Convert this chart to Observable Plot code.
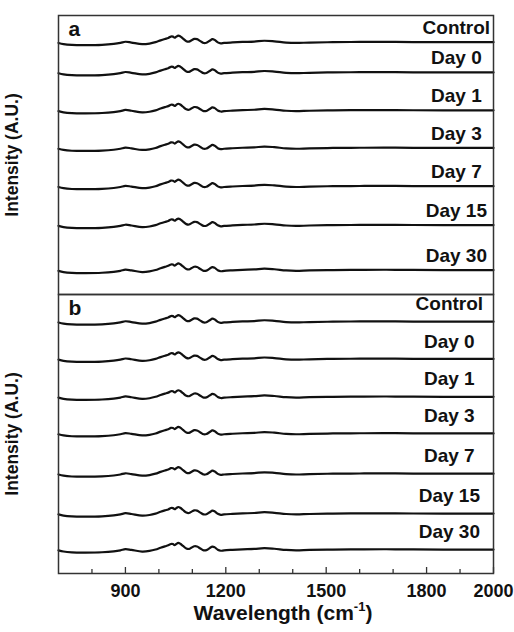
<!DOCTYPE html>
<html><head><meta charset="utf-8">
<script src="https://cdn.jsdelivr.net/npm/d3@7"></script>
<script src="https://cdn.jsdelivr.net/npm/@observablehq/plot@0.6"></script>
<style>body{margin:0;background:#fff} #chart{width:514px;height:632px}</style>
</head><body><div id="chart"></div>
<script>
// Wavenumber grid (cm-1) and spectral profile (relative intensity, A.U.)
const wavenumbers = [700, 715, 740, 780, 830, 865, 885, 900, 918, 950, 972, 990, 1005, 1018, 1028, 1036, 1042, 1047, 1052, 1058, 1064, 1072, 1082, 1090, 1098, 1106, 1114, 1124, 1134, 1142, 1152, 1160, 1167, 1176, 1185, 1195, 1220, 1250, 1285, 1315, 1345, 1380, 1410, 1450, 1520, 1600, 1680, 1760, 1850, 1950, 2000];
const profile = [-0.08, -0.20, -0.28, -0.30, -0.27, -0.18, -0.08, 0.04, -0.04, -0.20, -0.14, 0.00, 0.18, 0.32, 0.42, 0.56, 0.55, 0.44, 0.55, 0.66, 0.58, 0.36, 0.10, 0.06, 0.20, 0.33, 0.30, 0.10, -0.08, -0.06, 0.14, 0.30, 0.22, -0.02, -0.12, -0.08, -0.03, 0.02, 0.06, 0.14, 0.08, -0.04, -0.08, -0.04, 0, 0.02, 0.03, 0.01, 0, 0, 0];
const seriesNames = ["Control", "Day 0", "Day 1", "Day 3", "Day 7", "Day 15", "Day 30"];
const offsetsA = [25.28, 22.25, 18.45, 14.68, 10.85, 6.95, 2.45];
const offsetsB = [25.23, 21.5, 17.7, 14.03, 10.0, 6.0, 2.4];
const panels = ["a", "b"];
const majorTicks = [900, 1200, 1500, 1800, 2000];
const minorTicks = [800, 1000, 1100, 1300, 1400, 1600, 1700, 1900];

const rows = [];
const labelRows = [];
panels.forEach((p, pi) => {
  const offs = pi === 0 ? offsetsA : offsetsB;
  seriesNames.forEach((s, si) => {
    wavenumbers.forEach((w, wi) => rows.push({panel: p, series: s, w, y: offs[si] + profile[wi]}));
    labelRows.push({panel: p, series: s, y: offs[si]});
  });
});

const font = "'Liberation Sans', Arial, Helvetica, sans-serif";
const plot = Plot.plot({
  width: 514, height: 632,
  marginTop: 14, marginBottom: 59, marginLeft: 58, marginRight: 21,
  style: {fontFamily: font, fontWeight: "bold", fontSize: "18px", color: "#111", background: "#fff", overflow: "visible"},
  x: {domain: [700, 2000]},
  y: {domain: [0, 27.95], axis: null},
  fy: {domain: panels, padding: 0, axis: null},
  marks: [
    Plot.line(rows, {x: "w", y: "y", z: d => d.panel + d.series, fy: "panel", stroke: "#111", strokeWidth: 2.2, curve: "catmull-rom"}),
    Plot.frame({stroke: "#333", strokeWidth: 1.5}),
    Plot.ruleX(majorTicks, {x: d => d, y1: 0, y2: 0.6, fy: () => "b", stroke: "#333", strokeWidth: 1.3}),
    Plot.ruleX(minorTicks, {x: d => d, y1: 0, y2: 0.4, fy: () => "b", stroke: "#333", strokeWidth: 1.3}),
    Plot.axisX(majorTicks, {tickSize: 0, tickPadding: 11, label: null, fontSize: 18, fontWeight: "bold", tickFormat: d => String(d)}),
    Plot.text(labelRows, {x: d => d.panel === "a" ? 1889 : 1868, y: d => d.y + (d.panel === "a" ? 1.45 : 1.75), fy: "panel", text: "series", fontSize: 19, fontWeight: "bold", textAnchor: "middle", fill: "#111"}),
    Plot.text(panels, {x: 700, y: 27.95, fy: d => d, text: d => d, dx: 10, dy: 14, textAnchor: "start", lineAnchor: "middle", fontSize: 21, fontWeight: "bold", fill: "#111"}),
    Plot.text(panels, {fy: d => d, frameAnchor: "left", dx: -46, rotate: -90, textAnchor: "middle", text: () => "Intensity (A.U.)", fontSize: 17.5, fontWeight: "bold", fill: "#111"})
  ]
});
const svg = d3.select(plot);
const t = svg.append("text")
  .attr("x", 283).attr("y", 620)
  .attr("text-anchor", "middle")
  .attr("font-family", font).attr("font-weight", "bold").attr("font-size", 21).attr("fill", "#111");
t.append("tspan").text("Wavelength (cm");
t.append("tspan").attr("font-size", 13).attr("dy", -9).text("-1");
t.append("tspan").attr("dy", 9).text(")");
document.getElementById("chart").appendChild(plot);
</script>
</body></html>
